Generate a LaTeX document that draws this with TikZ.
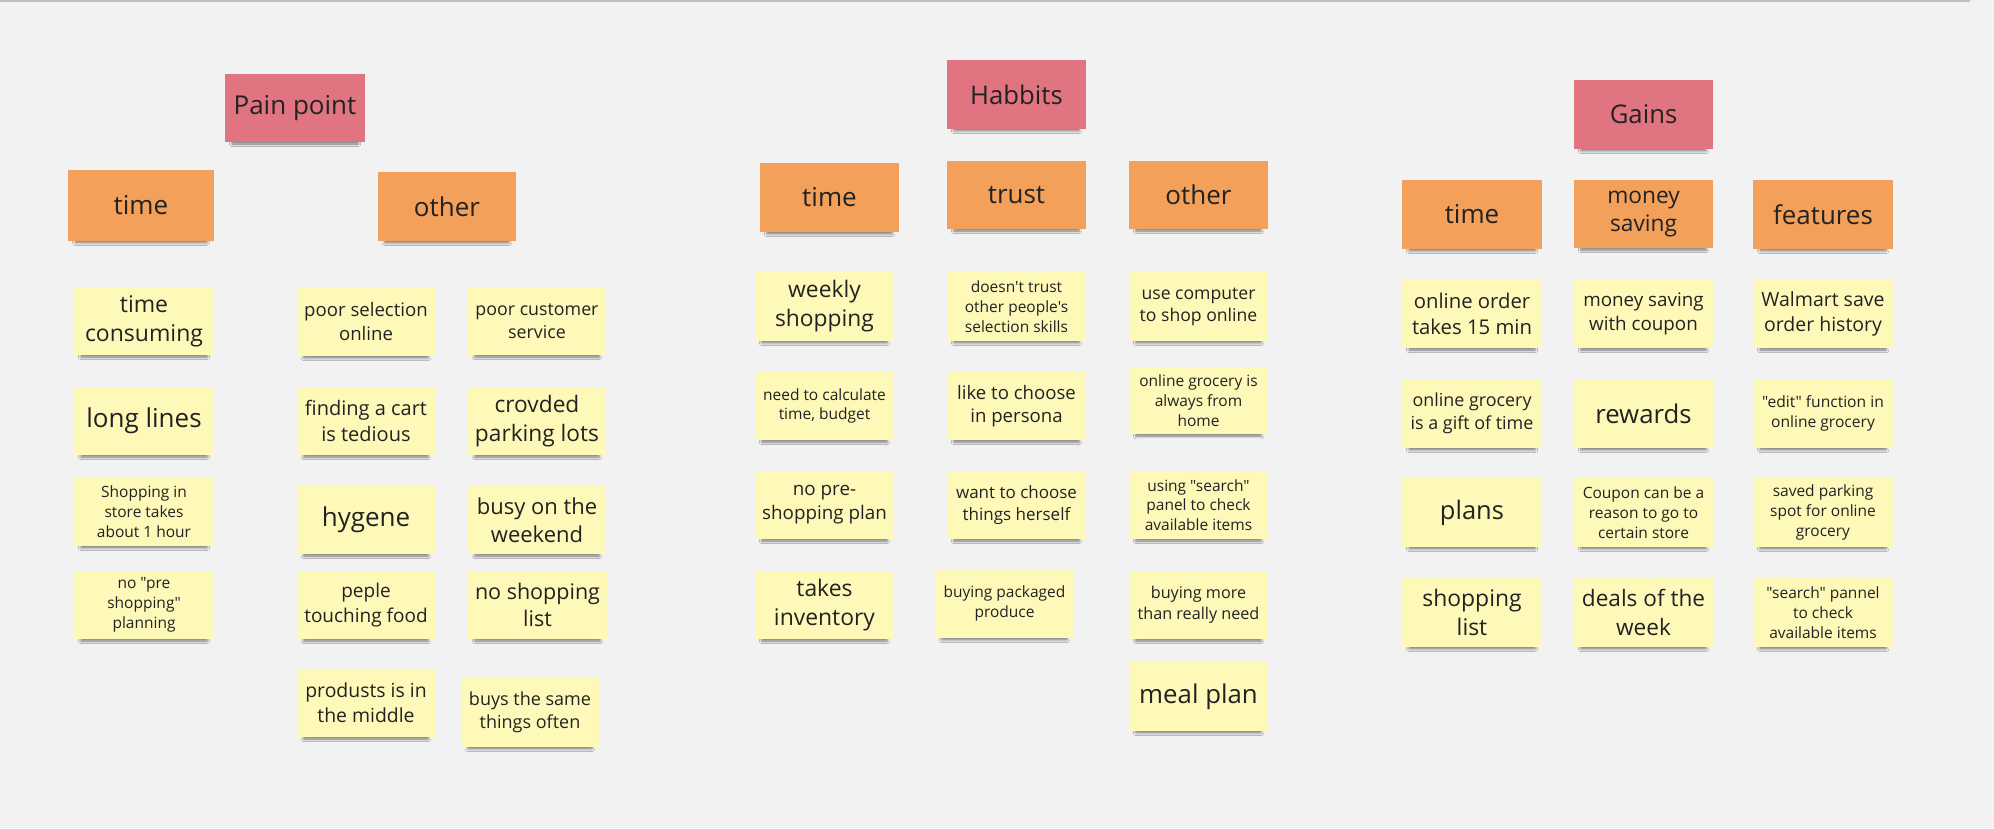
\documentclass[tikz,border=0pt]{standalone}
\usepackage{fontspec}
\setmainfont{Open Sans}[Ligatures=TeXOff]
\usetikzlibrary{shadows.blur}
\definecolor{bg}{HTML}{F2F2F2}
\definecolor{pinknote}{HTML}{E07581}
\definecolor{orangenote}{HTML}{F2A05A}
\definecolor{yellownote}{HTML}{FFF9B9}
\definecolor{ink}{HTML}{222222}
\definecolor{topline}{HTML}{BFBFBF}
\newcommand\stick[8]{%
  \pgfmathsetmacro\stkbs{#7*1.27}%
  \node[#6, minimum width={(#4)-(#2)}, minimum height={(#5)-(#3)},
        font={\fontsize{#7}{\stkbs}\selectfont}]
        (#1) at ({((#2)+(#4))/2},{((#3)+(#5))/2}) {#8};}
\tikzset{
  notebase/.style={rectangle, inner sep=0pt, align=center, text=ink,
    blur shadow={shadow xshift=0pt, shadow yshift=-6pt, shadow scale=0.9,
                 shadow blur radius=3pt, shadow opacity=50}},
  pinkst/.style={notebase, fill=pinknote},
  orangest/.style={notebase, fill=orangenote},
  yellowst/.style={notebase, fill=yellownote}
}
\begin{document}
\begin{tikzpicture}[x=1pt,y=-1pt]
\useasboundingbox (0,0) rectangle (1994,828);
\fill[bg] (0,0) rectangle (1994,828);
\coordinate (tl) at (0,1);
\coordinate (tr) at (1970,1);
\draw[topline, line width=2pt] (tl) -- (tr);

% ---------- Pain point ----------
\stick{pp}{225}{74}{365}{142}{pinkst}{26}{Pain point}
\stick{pptime}{68}{170}{214}{241}{orangest}{26}{time}
\stick{ppother}{378}{172}{516}{241}{orangest}{26}{other}

\stick{pa1}{74}{287}{214}{355}{yellowst}{23}{time\\consuming}
\stick{pa2}{74}{387}{214}{455}{yellowst}{26}{long lines}
\stick{pa3}{74}{477}{214}{546}{yellowst}{15.5}{Shopping in\\store takes\\about 1 hour}
\stick{pa4}{74}{571}{214}{639}{yellowst}{15.5}{no "pre\\shopping"\\planning}

\stick{pb1}{297}{287}{435}{356}{yellowst}{18.6}{poor selection\\online}
\stick{pb2}{297}{387}{435}{455}{yellowst}{20}{finding a cart\\is tedious}
\stick{pb3}{297}{486}{435}{554}{yellowst}{26}{hygene}
\stick{pb4}{297}{571}{435}{639}{yellowst}{19}{peple\\touching food}
\stick{pb5}{297}{669}{435}{737}{yellowst}{19.4}{produsts is in\\the middle}

\stick{pc1}{468}{287}{606}{355}{yellowst}{17.8}{poor customer\\service}
\stick{pc2}{468}{387}{606}{455}{yellowst}{22.7}{crovded\\parking lots}
\stick{pc3}{468}{486}{606}{554}{yellowst}{22}{busy on the\\weekend}
\stick{pc4}{468}{571}{607}{639}{yellowst}{21.5}{no shopping\\list}
\stick{pc5}{461}{678}{599}{747}{yellowst}{18}{buys the same\\things often}

% ---------- Habbits ----------
\stick{hab}{947}{60}{1086}{129}{pinkst}{25.7}{Habbits}
\stick{htime}{760}{163}{899}{232}{orangest}{26}{time}
\stick{htrust}{947}{161}{1086}{229}{orangest}{26}{trust}
\stick{hother}{1129}{161}{1268}{229}{orangest}{26}{other}

\stick{ha1}{755}{272}{894}{341}{yellowst}{22.8}{weekly\\shopping}
\stick{ha2}{755}{372}{894}{440}{yellowst}{15.5}{need to calculate\\time, budget}
\stick{ha3}{755}{471}{894}{539}{yellowst}{18.8}{no pre-\\shopping plan}
\stick{ha4}{755}{571}{894}{639}{yellowst}{22.9}{takes\\inventory}

\stick{hb1}{947}{272}{1086}{341}{yellowst}{15.5}{doesn't trust\\other people's\\selection skills}
\stick{hb2}{947}{372}{1086}{440}{yellowst}{18.6}{like to choose\\in persona}
\stick{hb3}{947}{471}{1086}{539}{yellowst}{17}{want to choose\\things herself}
\stick{hb4}{935}{569}{1074}{638}{yellowst}{15.5}{buying packaged\\produce}

\stick{hc1}{1129}{272}{1268}{341}{yellowst}{17.6}{use computer\\to shop online}
\stick{hc2}{1129}{367}{1268}{434}{yellowst}{15.5}{online grocery is\\always from\\home}
\stick{hc3}{1129}{471}{1268}{539}{yellowst}{15.5}{using "search"\\panel to check\\available items}
\stick{hc4}{1129}{571}{1268}{639}{yellowst}{16.2}{buying more\\than really need}
\stick{hc5}{1129}{662}{1268}{731}{yellowst}{25.8}{meal plan}

% ---------- Gains ----------
\stick{gains}{1574}{80}{1713}{149}{pinkst}{25.7}{Gains}
\stick{gtime}{1402}{180}{1542}{249}{orangest}{26}{time}
\stick{gmoney}{1574}{180}{1713}{248}{orangest}{22.7}{money\\saving}
\stick{gfeat}{1753}{180}{1893}{249}{orangest}{25.9}{features}

\stick{ga1}{1402}{280}{1542}{348}{yellowst}{20.3}{online order\\takes 15 min}
\stick{ga2}{1402}{379}{1542}{448}{yellowst}{17.9}{online grocery\\is a gift of time}
\stick{ga3}{1402}{478}{1542}{547}{yellowst}{25.5}{plans}
\stick{ga4}{1402}{578}{1542}{647}{yellowst}{22.9}{shopping\\list}

\stick{gb1}{1574}{280}{1713}{348}{yellowst}{18.8}{money saving\\with coupon}
\stick{gb2}{1574}{379}{1713}{448}{yellowst}{25.8}{rewards}
\stick{gb3}{1574}{478}{1713}{547}{yellowst}{15.5}{Coupon can be a\\reason to go to\\certain store}
\stick{gb4}{1574}{578}{1713}{647}{yellowst}{22.6}{deals of the\\week}

\stick{gc1}{1753}{280}{1893}{348}{yellowst}{19.5}{Walmart save\\order history}
\stick{gc2}{1753}{379}{1893}{448}{yellowst}{15.6}{"edit" function in\\online grocery}
\stick{gc3}{1753}{478}{1893}{547}{yellowst}{15.5}{saved parking\\spot for online\\grocery}
\stick{gc4}{1753}{578}{1893}{647}{yellowst}{15.5}{"search" pannel\\to check\\available items}
\end{tikzpicture}
\end{document}
